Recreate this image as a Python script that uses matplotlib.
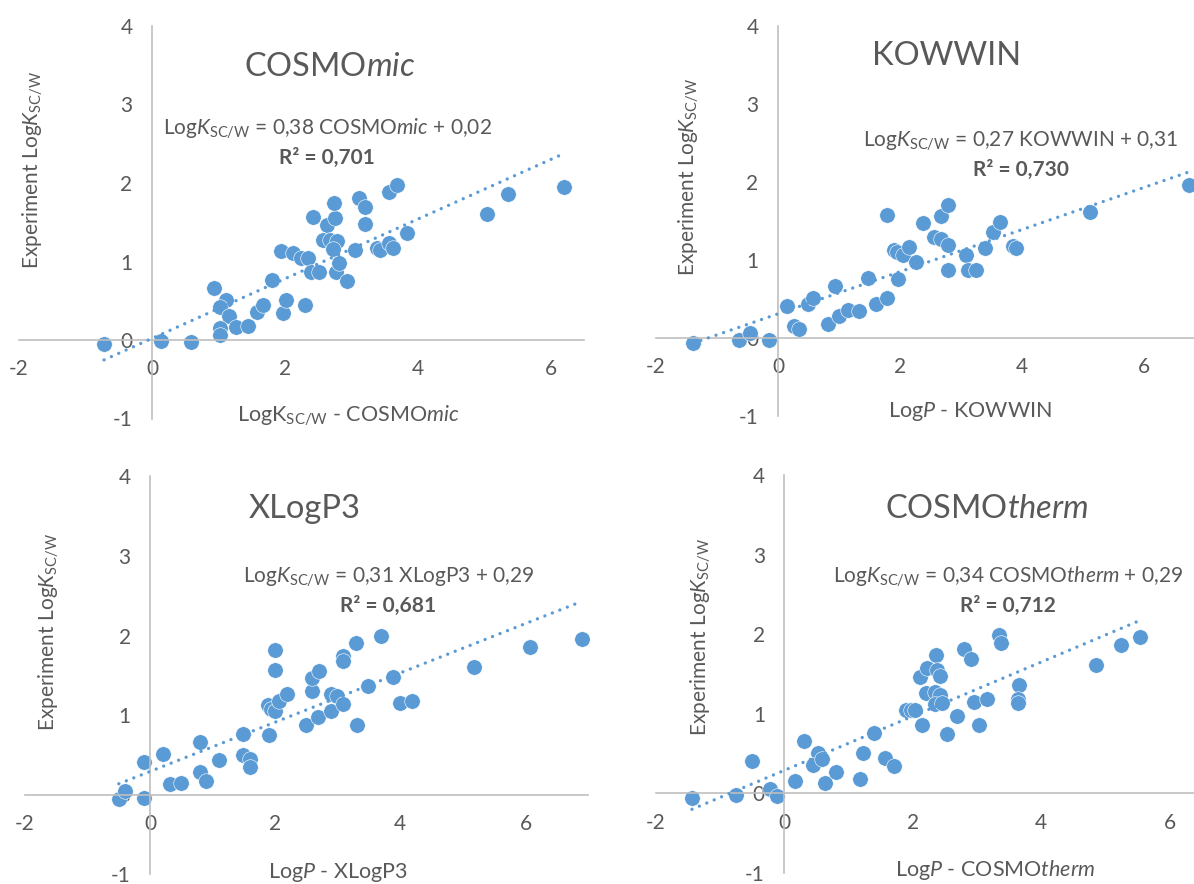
import matplotlib
matplotlib.use('Agg')
import matplotlib.pyplot as plt

plt.rcParams['font.family'] = ['Lato', 'DejaVu Sans']
plt.rcParams['mathtext.fontset'] = 'custom'
plt.rcParams['mathtext.rm'] = 'Lato'
plt.rcParams['mathtext.it'] = 'Lato:italic'
plt.rcParams['mathtext.bf'] = 'Lato:bold'
plt.rcParams['axes.unicode_minus'] = False

# data (predicted value, experiment LogK_SC/W)
mic_x = [-0.72, 0.13, 0.59, 0.94, 1.12, 1.03, 1.16, 1.02, 1.02, 1.27, 1.45, 1.58,
         1.67, 1.81, 1.97, 2.02, 1.94, 2.12, 2.24, 2.35, 2.43, 2.63, 2.75, 2.74,
         2.58, 2.68, 2.78, 2.73, 2.40, 2.52, 2.77, 2.81, 2.93, 3.11, 3.21, 3.21,
         3.06, 3.38, 3.43, 3.57, 3.63, 3.83, 3.57, 3.68, 5.04, 5.36, 6.20, 2.31]
mic_y = [-0.05, -0.01, -0.02, 0.66, 0.51, 0.42, 0.30, 0.15, 0.06, 0.17, 0.18, 0.36,
         0.44, 0.77, 0.35, 0.51, 1.14, 1.11, 1.05, 1.05, 1.57, 1.47, 1.55, 1.74,
         1.27, 1.27, 1.26, 1.16, 0.86, 0.86, 0.86, 0.98, 0.75, 1.81, 1.69, 1.48,
         1.15, 1.17, 1.15, 1.24, 1.17, 1.36, 1.89, 1.98, 1.60, 1.86, 1.95, 0.44]

kow_x = [-1.39, -0.64, -0.46, -0.14, 0.14, 0.26, 0.35, 0.49, 0.58, 0.93, 0.82, 1.00,
         1.15, 1.32, 1.48, 1.60, 1.78, 1.79, 1.96, 1.90, 1.95, 2.05, 2.14, 2.27,
         2.37, 2.55, 2.67, 2.79, 2.67, 2.78, 3.09, 2.78, 3.12, 3.25, 3.40, 3.53,
         3.64, 3.86, 3.91, 5.11, 6.73]
kow_y = [-0.06, -0.03, 0.07, -0.03, 0.41, 0.15, 0.12, 0.44, 0.51, 0.67, 0.18, 0.28,
         0.36, 0.34, 0.77, 0.44, 0.51, 1.58, 0.76, 1.13, 1.10, 1.06, 1.17, 0.98,
         1.47, 1.29, 1.27, 1.19, 1.56, 1.70, 1.06, 0.87, 0.87, 0.87, 1.15, 1.36,
         1.49, 1.18, 1.15, 1.61, 1.96]

xlog_x = [-0.50, -0.40, -0.10, -0.10, 0.20, 0.31, 0.50, 0.80, 0.80, 0.90, 1.10, 1.49,
          1.49, 1.60, 1.60, 1.90, 1.88, 1.93, 2.00, 2.06, 2.19, 1.99, 1.99, 2.49,
          2.59, 2.59, 2.70, 2.69, 2.89, 2.89, 2.99, 3.08, 3.30, 3.09, 3.09, 3.29,
          3.69, 3.49, 3.88, 3.99, 4.18, 5.18, 6.08, 6.90]
xlog_y = [-0.06, 0.05, -0.04, 0.41, 0.51, 0.13, 0.14, 0.66, 0.28, 0.17, 0.43, 0.76,
          0.50, 0.45, 0.34, 0.75, 1.13, 1.07, 1.05, 1.17, 1.26, 1.82, 1.57, 0.87,
          1.30, 1.47, 1.55, 0.97, 1.05, 1.26, 1.24, 1.14, 0.87, 1.74, 1.68, 1.90,
          1.99, 1.36, 1.48, 1.15, 1.17, 1.61, 1.86, 1.96]

therm_x = [-1.44, -0.76, -0.50, -0.23, -0.11, 0.17, 0.31, 0.52, 0.44, 0.59, 0.63, 0.80,
           1.17, 1.23, 1.40, 1.57, 1.71, 1.90, 1.97, 2.03, 2.14, 2.11, 2.22, 2.36,
           2.37, 2.42, 2.21, 2.34, 2.42, 2.34, 2.45, 2.53, 2.69, 2.95, 3.15, 3.03,
           2.80, 2.90, 3.35, 3.38, 3.65, 3.64, 3.64, 4.85, 5.24, 5.54]
therm_y = [-0.06, -0.02, 0.41, 0.05, -0.03, 0.15, 0.66, 0.51, 0.36, 0.43, 0.13, 0.27,
           0.18, 0.51, 0.76, 0.44, 0.35, 1.05, 1.05, 1.05, 0.86, 1.46, 1.57, 1.74,
           1.55, 1.48, 1.26, 1.27, 1.24, 1.12, 1.14, 0.75, 0.97, 1.15, 1.18, 0.86,
           1.82, 1.69, 1.99, 1.89, 1.36, 1.19, 1.14, 1.61, 1.86, 1.96]

methods = [r'COSMO$\mathit{mic}$', 'KOWWIN', 'XLogP3', r'COSMO$\mathit{therm}$']
x_labels = [r'LogK$_{\mathrm{SC/W}}$ - COSMO$\mathit{mic}$', r'Log$\mathit{P}$ - KOWWIN',
            r'Log$\mathit{P}$ - XLogP3', r'Log$\mathit{P}$ - COSMO$\mathit{therm}$']
slopes = [0.38, 0.27, 0.31, 0.34]
intercepts = [0.02, 0.31, 0.29, 0.29]
r_squared = [0.701, 0.730, 0.681, 0.712]
x_ticks = [-2, 0, 2, 4, 6]
y_ticks = [-1, 0, 1, 2, 3, 4]

W, H = 1194, 884
BLUE = '#5B9BD5'
TEXT = '#595959'
AXIS = '#BFBFBF'

# pixel layout: axes box (left, top, right, bottom), xmax, title / eq / label anchors
panels = [
    dict(x=mic_x, y=mic_y, box=(19, 26, 584, 418.5), xmax=6.5,
         title=(330, 76), eq=(328, 135), r2=(327, 164), ylab=(33, 170), xlab=(348, 422)),
    dict(x=kow_x, y=kow_y, box=(656, 26, 1194, 416), xmax=6.82,
         title=(947, 65), eq=(1021, 147), r2=(1021, 176), ylab=(689, 177), xlab=(970, 417)),
    dict(x=xlog_x, y=xlog_y, box=(25, 476.5, 588, 874), xmax=7.0,
         title=(305, 518), eq=(389, 583), r2=(388, 612), ylab=(49, 632), xlab=(338, 878)),
    dict(x=therm_x, y=therm_y, box=(656, 475, 1194, 873), xmax=6.38,
         title=(987, 518), eq=(1008, 583), r2=(1008, 612), ylab=(701, 637), xlab=(995, 876)),
]


def fx(px):
    return px / W


def fy(py):
    return 1 - py / H


fig = plt.figure(figsize=(W / 100, H / 100), dpi=100)

for i, p in enumerate(panels):
    left, top, right, bottom = p['box']
    ax = fig.add_axes([fx(left), fy(bottom), (right - left) / W, (bottom - top) / H])
    ax.set_xlim(-2, p['xmax'])
    ax.set_ylim(-1, 4)

    for side in ['top', 'right']:
        ax.spines[side].set_visible(False)
    for side in ['left', 'bottom']:
        ax.spines[side].set_position(('data', 0))
        ax.spines[side].set_color(AXIS)
        ax.spines[side].set_linewidth(1.2)
    ax.set_xticks(x_ticks)
    ax.set_yticks(y_ticks)
    ax.tick_params(length=0, labelsize=15, labelcolor=TEXT, pad=14)
    ax.patch.set_visible(False)

    ax.scatter(p['x'], p['y'], s=125, color=BLUE, edgecolors='white', linewidths=0.4,
               clip_on=False, zorder=2)

    # linear trendline over the data range
    x0, x1 = min(p['x']), max(p['x'])
    ax.plot([x0, x1], [slopes[i] * x0 + intercepts[i], slopes[i] * x1 + intercepts[i]],
            color=BLUE, lw=2.4, linestyle=(0, (0.01, 2.4)), dash_capstyle='round',
            clip_on=False, zorder=3)

    eq_name = methods[i]
    eq = (r'Log$\mathit{K}_{\mathrm{SC/W}}$ = ' + '{:.2f} '.format(slopes[i]).replace('.', ',')
          + eq_name + ' + ' + '{:.2f}'.format(intercepts[i]).replace('.', ','))
    r2 = 'R² = ' + '{:.3f}'.format(r_squared[i]).replace('.', ',')

    fig.text(fx(p['title'][0]), fy(p['title'][1]), methods[i], fontsize=23.5, color=TEXT,
             ha='center', va='baseline')
    fig.text(fx(p['eq'][0]), fy(p['eq'][1]), eq, fontsize=15, color=TEXT,
             ha='center', va='baseline')
    fig.text(fx(p['r2'][0]), fy(p['r2'][1]), r2, fontsize=15, color=TEXT, fontweight='bold',
             ha='center', va='baseline')
    fig.text(fx(p['ylab'][0]), fy(p['ylab'][1]), r'Experiment Log$\mathit{K}_{\mathrm{SC/W}}$',
             fontsize=15, color=TEXT, rotation=90, ha='center', va='center')
    fig.text(fx(p['xlab'][0]), fy(p['xlab'][1]), x_labels[i], fontsize=15.5, color=TEXT,
             ha='center', va='baseline')

fig.savefig('out.png', dpi=100)
